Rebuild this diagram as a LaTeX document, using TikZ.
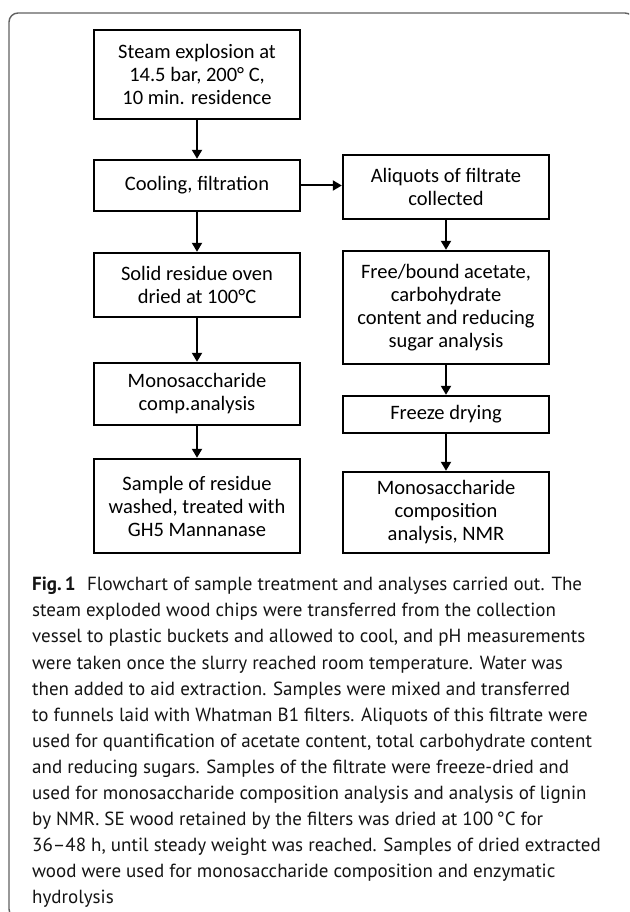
\documentclass[tikz,border=0pt]{standalone}
\usepackage{fontspec}
\usetikzlibrary{arrows.meta}
\newfontfamily\boxfont{Carlito}
\newfontfamily\capfont{PT Sans}
\tikzset{
  flowbox/.style={draw=black, line width=2.4pt, rectangle, minimum width=206pt, align=center, inner sep=2pt, font=\boxfont\fontsize{20.5}{23}\selectfont, text=black},
  flowarrow/.style={draw=black, line width=2pt, -{Triangle[length=9pt,width=10pt]}},
  frame/.style={draw=black!62, line width=1.4pt, rounded corners=9pt}
}
\begin{document}
\begin{tikzpicture}[x=1pt,y=-1pt]
\useasboundingbox (0,0) rectangle (629,912);
\clip (0,0) rectangle (629,912);
\fill[white] (0,0) rectangle (629,912);
\draw[frame] (9,13) rectangle (634,918);
% left column
\node[flowbox, minimum height=89pt] (steam) at (197,74.5) {Steam explosion at\\14.5 bar, 200° C,\\10 min. residence};
\node[flowbox, minimum height=51pt] (cool) at (197,185.5) {Cooling, filtration};
\node[flowbox, minimum height=64pt] (solid) at (197,285) {Solid residue oven\\dried at 100°C};
\node[flowbox, minimum height=62pt] (monol) at (197,394) {Monosaccharide\\comp.analysis};
\node[flowbox, minimum height=94pt] (sample) at (197,506) {Sample of residue\\washed, treated with\\GH5 Mannanase};
% right column
\node[flowbox, minimum height=64pt] (aliq) at (446,187) {Aliquots of filtrate\\collected};
\node[flowbox, minimum height=113pt] (free) at (446,307.5) {Free/bound acetate,\\carbohydrate\\content and reducing\\sugar analysis};
\node[flowbox, minimum height=37pt] (freeze) at (446,414.5) {Freeze drying};
\node[flowbox, minimum height=81pt] (monor) at (446,512.5) {Monosaccharide\\composition\\analysis, NMR};
% arrows
\draw[flowarrow] (steam) -- (cool);
\draw[flowarrow] (cool) -- (solid);
\draw[flowarrow] (solid) -- (monol);
\draw[flowarrow] (monol) -- (sample);
\draw[flowarrow] (cool.east) -- (cool.east -| aliq.west);
\draw[flowarrow] (aliq) -- (free);
\draw[flowarrow] (free) -- (freeze);
\draw[flowarrow] (freeze) -- (monor);
% caption
\node[anchor=north west, align=left, inner sep=0pt, text=black!92, font=\capfont\fontsize{19}{26.1}\selectfont] (caption) at (32,577)
{{\bfseries Fig.\,1}\hspace{0.6em}Flowchart of sample treatment and analyses carried out. The\\
steam exploded wood chips were transferred from the collection\\
vessel to plastic buckets and allowed to cool, and pH measurements\\
were taken once the slurry reached room temperature. Water was\\
then added to aid extraction. Samples were mixed and transferred\\
to funnels laid with Whatman B1 filters. Aliquots of this filtrate were\\
used for quantification of acetate content, total carbohydrate content\\
and reducing sugars. Samples of the filtrate were freeze-dried and\\
used for monosaccharide composition analysis and analysis of lignin\\
by NMR. SE wood retained by the filters was dried at 100\,°C for\\
36–48 h, until steady weight was reached. Samples of dried extracted\\
wood were used for monosaccharide composition and enzymatic\\
hydrolysis};
\end{tikzpicture}
\end{document}
